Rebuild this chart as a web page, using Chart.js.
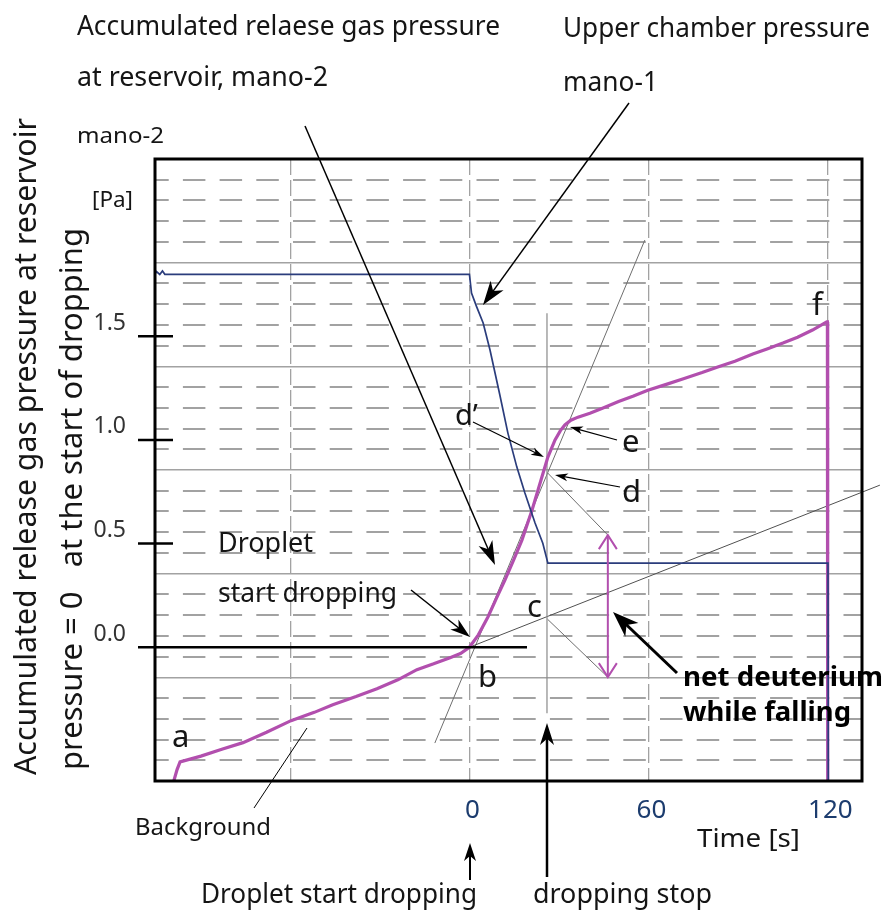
<!DOCTYPE html>
<html><head><meta charset="utf-8">
<script src="https://cdn.jsdelivr.net/npm/chart.js@4/dist/chart.umd.min.js"></script>
<style>html,body{margin:0;padding:0;background:#fff}canvas{display:block}</style>
</head><body>
<canvas id="c" width="886" height="921"></canvas>
<script>
// ---------------- data ----------------
const timeRange = [-105.4, 131.6];      // s
const pressureRange = [-0.645, 2.355];  // Pa (mano-2 scale)

// mano-2 : accumulated release gas pressure at reservoir (magenta)
const mano2Time = [-99.1,-98.0,-97.0,-90,-83,-75.9,-68,-59.8,-52,-45.8,-38,-31,-24,-17.6,-12,-6.5,-3,0,
  3,6.2,9,11.9,14.8,17.6,21.0,24.3,26.3,28.7,30.5,32.0,34,36.4,40.4,45,50,55,59.8,66,72,78,83,89,95,100,105.1,110,115,119.8,120,120.1];
const mano2Pressure = [-0.645,-0.590,-0.553,-0.525,-0.492,-0.460,-0.410,-0.354,-0.314,-0.277,-0.238,-0.200,-0.157,-0.108,-0.080,-0.050,-0.030,0,
  0.060,0.146,0.235,0.324,0.420,0.517,0.662,0.821,0.917,1.000,1.045,1.072,1.095,1.110,1.129,1.155,1.185,1.212,1.240,1.268,1.296,1.325,1.351,1.380,1.414,1.440,1.467,1.495,1.530,1.569,1.569,-0.645];

// mano-1 : upper chamber pressure (navy), drawn on the same frame
const mano1Time = [-105.4,-104.9,-103.8,-102.9,-102.1,0,0.7,2.4,4.6,6.9,10.2,12.9,15.9,18.6,22.0,24.6,26.3,120.2,120.3];
const mano1Pressure = [1.800,1.812,1.798,1.815,1.799,1.799,1.708,1.643,1.564,1.434,1.217,1.033,0.869,0.744,0.599,0.502,0.406,0.406,-0.645];

// axis ticks
const xTickValues = [0, 60, 120];
const xTickLabels = ['0', '60', '120'];
const yTickValues = [0, 0.5, 1.0, 1.5];
const yTickLabels = ['0.0', '0.5', '1.0', '1.5'];

// recorder chart-paper grid
const xGridValues = [-60, 0, 60, 120];
const yMajorGrid = [-0.145, 0.355, 0.855, 1.355, 1.855];
const yMinorGrid = [-0.545,-0.445,-0.345,-0.245,-0.045,0.055,0.155,0.255,0.455,0.555,0.655,0.755,
  0.955,1.055,1.155,1.255,1.455,1.555,1.655,1.755,1.955,2.055,2.155,2.255];

// construction lines (time s, pressure Pa)
const tangentAtD = [[58.8, 1.964], [-11.6, -0.462]];
const backgroundTrend = [[0, 0], [137.6, 0.782]];
const dropStopLine = [[26, 1.611], [26, -0.318]];
const guideFromC = [[26.2, 0.135], [46.4, -0.144]];
const guideFromD = [[26.2, 0.841], [46.4, 0.541]];
const netDeuterium = [[46.4, 0.541], [46.4, -0.144]];
const zeroLineEnd = 19.3;

// ---------------- drawing ----------------
const MAG = '#b24fae', NAVY = '#2b3d7c', GRID = '#a2a2a2';
Chart.defaults.font.family = '"Noto Sans", "DejaVu Sans", sans-serif';

const pts = (xs, ys) => xs.map((t, i) => ({x: t, y: ys[i]}));
const setTicks = arr => (s => { s.ticks = arr.map(v => ({value: v})); });
const fixW = w => (s => { s.width = w; });
const fixH = h => (s => { s.height = h; });

function seg(ctx, a, b, color, w) {
  ctx.save(); ctx.strokeStyle = color; ctx.lineWidth = w;
  ctx.beginPath(); ctx.moveTo(a[0], a[1]); ctx.lineTo(b[0], b[1]); ctx.stroke(); ctx.restore();
}
function arrow(ctx, x1, y1, x2, y2, len, wid, lw, color) {
  const ang = Math.atan2(y2 - y1, x2 - x1);
  const c = Math.cos(ang), s = Math.sin(ang);
  const bx = x2 - c * len, by = y2 - s * len;
  ctx.save(); ctx.strokeStyle = color; ctx.fillStyle = color; ctx.lineWidth = lw;
  ctx.beginPath(); ctx.moveTo(x1, y1); ctx.lineTo(x2 - c * len * 0.6, y2 - s * len * 0.6); ctx.stroke();
  ctx.beginPath();
  ctx.moveTo(x2, y2);
  ctx.lineTo(bx - s * wid / 2, by + c * wid / 2);
  ctx.lineTo(x2 - c * len * 0.72, y2 - s * len * 0.72);
  ctx.lineTo(bx + s * wid / 2, by - c * wid / 2);
  ctx.closePath(); ctx.fill(); ctx.restore();
}
function openHead(ctx, x, y, dir, len, wid, color, lw) {
  ctx.save(); ctx.strokeStyle = color; ctx.lineWidth = lw;
  ctx.beginPath(); ctx.moveTo(x - wid / 2, y + dir * len); ctx.lineTo(x, y); ctx.lineTo(x + wid / 2, y + dir * len); ctx.stroke();
  ctx.restore();
}
function T(ctx, s, x, y, size, w, o) {
  o = o || {};
  ctx.save();
  ctx.font = (o.bold ? 'bold ' : '') + size + 'px "Noto Sans"';
  ctx.fillStyle = o.color || '#151515';
  ctx.textBaseline = 'alphabetic';
  const m = ctx.measureText(s).width;
  const sx = w ? w / m : 1;
  ctx.translate(x, y);
  if (o.rot) ctx.rotate(o.rot);
  ctx.scale(sx, 1);
  ctx.fillText(s, 0, 0);
  ctx.restore();
}

const deco = {
  id: 'deco',
  beforeDatasetsDraw(chart) {
    const {ctx} = chart, x = chart.scales.x, y = chart.scales.y;
    const P = p => [x.getPixelForValue(p[0]), y.getPixelForValue(p[1])];
    seg(ctx, P(tangentAtD[0]), P(tangentAtD[1]), '#6e6e6e', 1);
    seg(ctx, P(backgroundTrend[0]), P(backgroundTrend[1]), '#505050', 1);
    seg(ctx, P(dropStopLine[0]), P(dropStopLine[1]), '#8a8a8a', 1.2);
    seg(ctx, P(guideFromC[0]), P(guideFromC[1]), '#6e6e6e', 1);
    seg(ctx, P(guideFromD[0]), P(guideFromD[1]), '#6e6e6e', 1);
  },
  afterDatasetsDraw(chart) {
    const {ctx, chartArea: a} = chart, x = chart.scales.x, y = chart.scales.y;
    const P = p => [x.getPixelForValue(p[0]), y.getPixelForValue(p[1])];
    // frame
    ctx.save(); ctx.strokeStyle = '#000'; ctx.lineWidth = 3;
    ctx.strokeRect(a.left, a.top, a.right - a.left, a.bottom - a.top); ctx.restore();
    // y tick marks, zero line extended
    yTickValues.forEach(v => {
      const py = y.getPixelForValue(v);
      const xe = v === 0 ? x.getPixelForValue(zeroLineEnd) : a.left + 18;
      seg(ctx, [a.left - 17, py], [xe, py], '#000', 2.5);
    });
    // net deuterium double arrow
    const top = P(netDeuterium[0]), bot = P(netDeuterium[1]);
    seg(ctx, top, bot, MAG, 2);
    openHead(ctx, top[0], top[1], 1, 14, 18, MAG, 2);
    openHead(ctx, bot[0], bot[1], -1, 14, 18, MAG, 2);
    // pointer arrows
    arrow(ctx, 305, 126, 495, 565, 24, 15, 1.5, '#000');
    arrow(ctx, 629, 103, 483, 305, 24, 16, 1.5, '#000');
    arrow(ctx, 411, 590, 470, 637, 20, 13, 1.5, '#000');
    arrow(ctx, 473, 422, 544, 457, 13, 8, 1.2, '#000');
    arrow(ctx, 617, 440, 570, 427, 13, 8, 1.2, '#000');
    arrow(ctx, 620, 487, 555, 475, 13, 8, 1.2, '#000');
    arrow(ctx, 677, 673, 613, 612, 26, 19, 3, '#000');
    arrow(ctx, 470, 880, 470, 843, 18, 12, 2, '#000');
    arrow(ctx, 547, 877, 547, 723, 22, 14, 2.5, '#000');
    seg(ctx, [307, 728], [254, 808], '#000', 1);
  },
  afterDraw(chart) {
    const ctx = chart.ctx;
    T(ctx, 'Accumulated relaese gas pressure', 77, 35, 28, 423);
    T(ctx, 'at reservoir, mano-2', 77, 86, 28, 251);
    T(ctx, 'Upper chamber pressure', 563, 37, 28, 307);
    T(ctx, 'mano-1', 563, 91, 28, 95);
    T(ctx, 'mano-2', 77, 143, 21, 87);
    T(ctx, '[Pa]', 92, 207, 22, 41);
    T(ctx, 'Droplet', 218, 552, 27, 95);
    T(ctx, 'start dropping', 218, 602, 27, 179);
    T(ctx, 'a', 172, 747, 31);
    T(ctx, 'b', 478, 687, 31);
    T(ctx, 'c', 527, 617, 31);
    T(ctx, 'd\u2019', 455, 425, 29);
    T(ctx, 'd', 622, 502, 31);
    T(ctx, 'e', 622, 452, 31);
    T(ctx, 'f', 812, 315, 31);
    T(ctx, 'net deuterium', 683, 686, 27, 200, {bold: true, color: '#000'});
    T(ctx, 'while falling', 683, 721, 27, 168, {bold: true, color: '#000'});
    T(ctx, 'Background', 135, 835, 24, 136);
    T(ctx, 'Time [s]', 697, 847, 26, 103);
    T(ctx, 'Droplet start dropping', 201, 903, 27, 276);
    T(ctx, 'dropping stop', 533, 903, 27, 179);
    T(ctx, 'Accumulated release gas pressure at reservoir', 36, 775, 31, 657, {rot: -Math.PI / 2});
    T(ctx, 'pressure = 0   at the start of dropping', 82, 770, 31, 542, {rot: -Math.PI / 2});
  }
};

new Chart(document.getElementById('c'), {
  type: 'line',
  data: {
    datasets: [
      {label: 'mano-1', data: pts(mano1Time, mano1Pressure), borderColor: NAVY, borderWidth: 1.7,
       pointRadius: 0, tension: 0, fill: false},
      {label: 'mano-2', data: pts(mano2Time, mano2Pressure), borderColor: MAG, borderWidth: 3.2,
       pointRadius: 0, tension: 0, fill: false}
    ]
  },
  options: {
    responsive: false, animation: false, devicePixelRatio: 1,
    layout: {padding: {left: 0, top: 159, right: 24, bottom: 0}},
    plugins: {legend: {display: false}, tooltip: {enabled: false}},
    scales: {
      x: {
        type: 'linear', position: 'bottom', min: timeRange[0], max: timeRange[1],
        afterBuildTicks: setTicks(xGridValues), afterFit: fixH(140),
        grid: {color: GRID, lineWidth: 1.3, drawTicks: false},
        border: {display: false, dash: [16, 5]},
        ticks: {
          padding: 14, labelOffset: 3, maxRotation: 0, autoSkip: false,
          color: '#1c3c6e', font: {size: 26},
          callback: v => { const i = xTickValues.indexOf(v); return i >= 0 ? xTickLabels[i] : ''; }
        }
      },
      y: {
        type: 'linear', position: 'left', min: pressureRange[0], max: pressureRange[1],
        afterBuildTicks: setTicks(yMajorGrid), afterFit: fixW(0),
        grid: {color: GRID, lineWidth: 1.5, drawTicks: false},
        border: {display: false},
        ticks: {display: false}
      },
      yMinor: {
        type: 'linear', position: 'left', min: pressureRange[0], max: pressureRange[1],
        afterBuildTicks: setTicks(yMinorGrid), afterFit: fixW(0),
        grid: {color: GRID, lineWidth: 2, drawTicks: false},
        border: {display: false, dash: [22.5, 14.2], dashOffset: 8.8},
        ticks: {display: false}
      },
      yLab: {
        type: 'linear', position: 'left', min: pressureRange[0], max: pressureRange[1],
        afterBuildTicks: setTicks(yTickValues), afterFit: fixW(155),
        grid: {display: false},
        border: {display: false},
        ticks: {
          padding: 21, labelOffset: -13, color: '#333', font: {size: 23}, autoSkip: false,
          callback: v => { const i = yTickValues.indexOf(v); return i >= 0 ? yTickLabels[i] : ''; }
        }
      }
    }
  },
  plugins: [deco]
});
</script>
</body></html>
